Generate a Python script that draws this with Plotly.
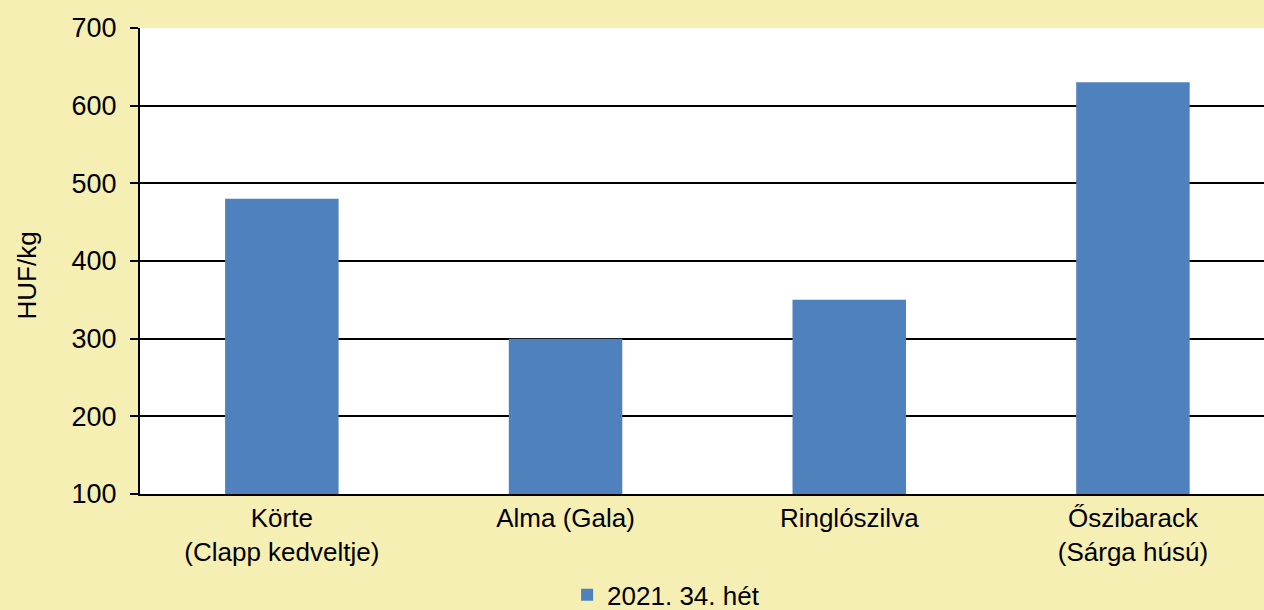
import plotly.graph_objects as go

categories = ["Körte<br>(Clapp kedveltje)", "Alma (Gala)", "Ringlószilva", "Őszibarack<br>(Sárga húsú)"]
values = [480, 300, 350, 630]
series_name = "2021. 34. hét"
y_ticks = [100, 200, 300, 400, 500, 600, 700]
y_title = "HUF/kg"

FONT = "Liberation Sans, Arial, sans-serif"

fig = go.Figure()
fig.add_trace(go.Bar(
    x=list(range(len(categories))),
    y=values,
    name=series_name,
    width=0.4,
    marker=dict(color="#4F81BD", line=dict(width=0)),
    showlegend=True,
))

fig.update_layout(
    width=1264, height=610,
    paper_bgcolor="#F5EFB4",
    plot_bgcolor="#FFFFFF",
    margin=dict(l=140, r=0, t=28, b=116, autoexpand=False),
    font=dict(family=FONT, size=26, color="#000000"),
    showlegend=True,
    legend=dict(
        orientation="h",
        x=0.38, xanchor="left",
        y=-0.166, yanchor="top",
        bgcolor="rgba(0,0,0,0)",
        font=dict(family=FONT, size=26, color="#000000"),
    ),
)

fig.update_xaxes(
    range=[-0.5, 3.462],
    tickmode="array",
    tickvals=list(range(len(categories))),
    ticktext=categories,
    showgrid=False,
    showline=True, linecolor="#000000", linewidth=2,
    ticks="",
    tickfont=dict(family=FONT, size=26, color="#000000"),
    zeroline=False,
)

fig.update_yaxes(
    range=[100, 700],
    tickmode="array",
    tickvals=y_ticks,
    ticktext=[str(v) for v in y_ticks],
    showgrid=True, gridcolor="#000000", gridwidth=2,
    showline=True, linecolor="#000000", linewidth=2,
    ticks="outside", ticklen=8, tickwidth=2, tickcolor="#000000",
    ticklabelstandoff=8,
    tickfont=dict(family=FONT, size=27, color="#000000"),
    title=dict(text=y_title + "&nbsp;" * 4, font=dict(family=FONT, size=26, color="#000000"), standoff=27),
    zeroline=False,
)

fig.write_html(
    "out.html",
    config={"displayModeBar": False},
    post_script="document.body.style.margin='0';document.body.style.overflow='hidden';",
)
